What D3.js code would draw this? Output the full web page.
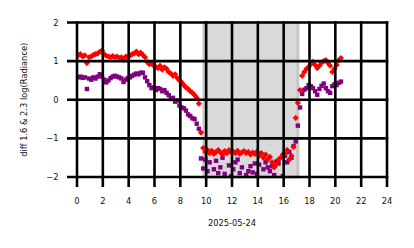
<!DOCTYPE html>
<html><head><meta charset="utf-8">
<script src="https://cdn.jsdelivr.net/npm/d3@7"></script>
<style>body{margin:0;background:#fff}svg{display:block;font-family:"DejaVu Sans",sans-serif}</style>
</head><body><div id="chart"></div>
<script>
// hours: 10-minute samples starting 0.1 h
const startHour = 0.1, stepHour = 1/6;
const redValues = [
  1.15, 1.18, 1.12, 1.15, 0.95, 1.10,
  1.12, 1.16, 1.18, 1.20, 1.24, 1.28,
  1.18, 1.14, 1.12, 1.10, 1.13, 1.10,
  1.12, 1.08, 1.10, 1.03, 1.12, 1.10,
  1.14, 1.18, 1.20, 1.25, 1.18, 1.22,
  1.16, 1.10, 0.98, 0.92, 0.95, 0.88,
  0.85, 0.82, 0.88, 0.78, 0.84, 0.80,
  0.72, 0.68, 0.62, 0.66, 0.56, 0.50,
  0.45, 0.38, 0.32, 0.28, 0.22, 0.18,
  0.12, 0.05, -0.10, -0.85, -1.25, -1.35,
  -1.30, -1.38, -1.32, -1.40, -1.35, -1.30,
  -1.36, -1.42, -1.33, -1.38, -1.30, -1.36,
  -1.34, -1.38, -1.32, -1.40, -1.36, -1.33,
  -1.38, -1.35, -1.42, -1.37, -1.40, -1.34,
  -1.45, -1.38, -1.50, -1.42, -1.55, -1.48,
  -1.62, -1.75, -1.68, -1.55, -1.50, -1.42,
  -1.40, -1.30, -1.55, -1.45, -1.22, -0.47,
  -0.08, 0.25, 0.62, 0.72, 0.80, 0.85,
  0.92, 0.98, 0.90, 0.82, 0.88, 0.96,
  1.00, 1.03, 0.95, 0.88, 0.72, 0.80,
  0.90, 1.02, 1.08
];
const purpleValues = [
  0.58, 0.60, 0.57, 0.58, 0.28, 0.55,
  0.52, 0.58, 0.55, 0.60, 0.66, 0.60,
  0.52, 0.45, 0.50, 0.56, 0.60, 0.62,
  0.60, 0.58, 0.55, 0.46, 0.52, 0.56,
  0.58, 0.62, 0.65, 0.68, 0.66, 0.70,
  0.70, 0.58, 0.48, 0.38, 0.30, 0.32,
  0.25, 0.30, 0.28, 0.22, 0.25, 0.18,
  0.12, 0.02, 0.05, -0.05, -0.02, -0.15,
  -0.20, -0.22, -0.28, -0.38, -0.42, -0.48,
  -0.50, -0.62, -0.75, -1.52, -1.78, -1.55,
  -1.85, -1.62, -2.05, -1.80, -1.58, -1.90,
  -1.75, -1.50, -1.92, -2.10, -1.70, -1.98,
  -1.80, -1.62, -1.55, -1.90, -1.75, -2.08,
  -1.95, -1.85, -1.72, -1.88, -1.65, -1.92,
  -1.68, -2.06, -1.80, -1.62, -1.75, -1.85,
  -1.72, -1.95, -1.60, -1.65, -2.10, -1.98,
  -1.45, -1.62, -1.35, -1.50, -1.20, -1.08,
  -0.67, -0.20, 0.15, 0.26, 0.30, 0.38,
  0.35, 0.30, 0.22, 0.13, 0.28, 0.36,
  0.42, 0.30, 0.22, 0.18, 0.35, 0.40,
  0.38, 0.44, 0.47
];
const bandStart = 9.83, bandEnd = 17.1;
const xTicks = [0,2,4,6,8,10,12,14,16,18,20,22,24];
const yTicks = [-2,-1,0,1,2];
const xLabel = "2025-05-24";
const yLabel = "diff 1.6 & 2.3  log(Radiance)";

const W = 414, H = 248;
const svg = d3.select("#chart").append("svg").attr("width", W).attr("height", H);
const x = d3.scaleLinear().domain([0,24]).range([77,387]);
const y = d3.scaleLinear().domain([-2,2]).range([177,22.5]);

svg.append("defs").append("clipPath").attr("id","clip")
  .append("rect").attr("x",77).attr("y",22.5).attr("width",310).attr("height",154.5);

// band
svg.append("rect")
  .attr("x", x(bandStart)).attr("y", y(2))
  .attr("width", x(bandEnd)-x(bandStart)).attr("height", y(-2)-y(2))
  .attr("fill","#d9d9d9").attr("stroke","#c6c6c6").attr("stroke-width",3);

const toPts = vals => vals.map((v,i)=>({h:startHour+i*stepHour, v}));
const g = svg.append("g").attr("clip-path","url(#clip)");

g.selectAll("rect.p").data(toPts(purpleValues)).join("rect").attr("class","p")
  .attr("x", d=>x(d.h)-2.2).attr("y", d=>y(d.v)-2.2)
  .attr("width",4.4).attr("height",4.4).attr("fill","#800080");

const diamond = d3.symbol().type(d3.symbolSquare).size(19);
g.selectAll("path.r").data(toPts(redValues)).join("path").attr("class","r")
  .attr("d", diamond)
  .attr("transform", d=>`translate(${x(d.h)},${y(d.v)}) rotate(45)`)
  .attr("fill","#ff0000");

// grid + ticks (black, drawn on top)
const gridG = svg.append("g").attr("stroke","#000").attr("stroke-width",2.6).attr("stroke-linecap","butt");
xTicks.forEach(t=>{
  gridG.append("line").attr("x1",x(t)).attr("x2",x(t)).attr("y1",y(2)-1.3).attr("y2",y(-2)+10);
});
yTicks.forEach(t=>{
  gridG.append("line").attr("x1",x(0)-10).attr("x2",x(24)+1.3).attr("y1",y(t)).attr("y2",y(t));
});

const fmt = v => v < 0 ? "\u2212" + Math.abs(v) : String(v);
svg.append("g").selectAll("text").data(xTicks).join("text")
  .attr("x", d=>x(d)).attr("y", 203.5).attr("text-anchor","middle")
  .attr("font-size",8.3).attr("fill","#111").text(d=>d);
svg.append("g").selectAll("text").data(yTicks).join("text")
  .attr("x", 58.5).attr("y", d=>y(d)+3).attr("text-anchor","end")
  .attr("font-size",8.3).attr("fill","#111").text(d=>fmt(d));

svg.append("text").attr("x", x(12)).attr("y", 226).attr("text-anchor","middle")
  .attr("font-size",8.3).attr("fill","#111").text(xLabel);
svg.append("text").attr("transform",`translate(27,${y(0)}) rotate(-90)`)
  .attr("text-anchor","middle").attr("font-size",8.3).attr("fill","#111").text(yLabel);
</script></body></html>
